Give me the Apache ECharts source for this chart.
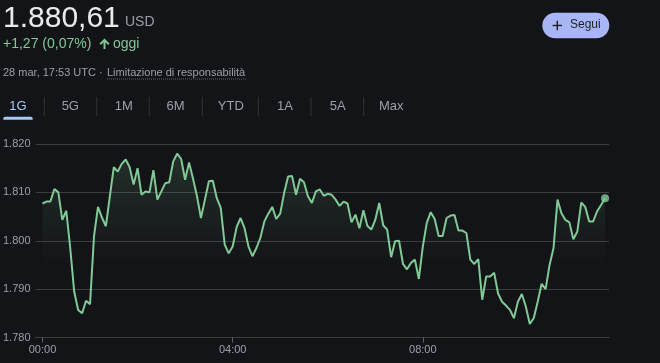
<!DOCTYPE html>
<html>
<head>
<meta charset="utf-8">
<script src="https://cdn.jsdelivr.net/npm/echarts@6/dist/echarts.min.js"></script>
<style>
  html, body { margin: 0; padding: 0; background: #131418; }
  #chart { width: 660px; height: 363px; }
</style>
</head>
<body>
<div id="chart"></div>
<script>
// ---- data ----
const stepMinutes = 5;
const values = [
  1.8077, 1.8081, 1.8081, 1.8107, 1.8100, 1.8043, 1.8062, 1.7985, 1.7895, 1.7857,
  1.7850, 1.7876, 1.7869, 1.8009, 1.8070, 1.8048, 1.8030, 1.8092, 1.8152, 1.8143,
  1.8159, 1.8168, 1.8152, 1.8116, 1.8150, 1.8095, 1.8102, 1.8100, 1.8146, 1.8085,
  1.8102, 1.8119, 1.8121, 1.8164, 1.8180, 1.8169, 1.8126, 1.8162, 1.8128, 1.8092,
  1.8047, 1.8085, 1.8123, 1.8124, 1.8088, 1.8068, 1.7992, 1.7974, 1.7988, 1.8028,
  1.8047, 1.8026, 1.7988, 1.7968, 1.7985, 1.8006, 1.8040, 1.8056, 1.8070, 1.8045,
  1.8056, 1.8099, 1.8133, 1.8134, 1.8095, 1.8128, 1.8121, 1.8092, 1.8078, 1.8102,
  1.8106, 1.8093, 1.8097, 1.8095, 1.8085, 1.8072, 1.8081, 1.8077, 1.8038, 1.8054,
  1.8026, 1.8063, 1.8031, 1.8023, 1.8043, 1.8078, 1.8032, 1.8023, 1.7966, 1.7999,
  1.8000, 1.7952, 1.7941, 1.7954, 1.7961, 1.7921, 1.7988, 1.8037, 1.8059, 1.8045,
  1.8010, 1.8010, 1.8047, 1.8052, 1.8053, 1.8021, 1.8021, 1.8016, 1.7961, 1.7952,
  1.7962, 1.7878, 1.7926, 1.7926, 1.7934, 1.7891, 1.7874, 1.7866, 1.7857, 1.7840,
  1.7874, 1.7890, 1.7864, 1.7828, 1.7840, 1.7874, 1.7911, 1.7900, 1.7950, 1.7985,
  1.8085, 1.8057, 1.8043, 1.8038, 1.8003, 1.8019, 1.8079, 1.8070, 1.8040, 1.8040,
  1.8061, 1.8074, 1.8088
];
const times = values.map((_, i) => i * stepMinutes); // minutes since 00:00
const xTickMinutes = [0, 240, 480];
const xTickLabels = ['00:00', '04:00', '08:00'];
const yTicks = [1.78, 1.79, 1.80, 1.81, 1.82];
const tabs = ['1G', '5G', '1M', '6M', 'YTD', '1A', '5A', 'Max'];
const tabCenters = [18, 70.3, 123.7, 175.5, 230.8, 285, 337.8, 391.2];
const tabSeparators = [44.3, 96.7, 149.3, 202.3, 258.3, 311, 363.7];

const GREEN = '#81c995';
const GREY = '#9aa0a6';
const FONT = '"Liberation Sans", Arial, sans-serif';

const lineData = times.map((t, i) => [t, values[i]]);
const lastPoint = [times[times.length - 1], values[values.length - 1]];

const graphics = [
  { type: 'text', left: 3, top: 4, style: { text: '1.880,61', font: '30px ' + FONT, fill: '#e8eaed' } },
  { type: 'text', left: 125, top: 15, style: { text: 'USD', font: '14px ' + FONT, fill: GREY } },
  { type: 'text', left: 3, top: 37, style: { text: '+1,27 (0,07%)', font: '14px ' + FONT, fill: GREEN } },
  { type: 'polygon', shape: { points: [[104.5,38.5],[109.5,43.5],[108.1,44.9],[105.5,42.3],[105.5,49],[103.5,49],[103.5,42.3],[100.9,44.9],[99.5,43.5]] }, style: { fill: GREEN } },
  { type: 'text', left: 113, top: 37, style: { text: 'oggi', font: '14px ' + FONT, fill: GREEN } },
  { type: 'text', left: 3, top: 67, style: { text: '28 mar, 17:53 UTC · ', font: '11px ' + FONT, fill: GREY } },
  { type: 'text', left: 107, top: 67, style: { text: 'Limitazione di responsabilità', font: '11px ' + FONT, fill: GREY } },
  { type: 'line', shape: { x1: 107, y1: 79, x2: 247, y2: 79 }, style: { stroke: '#5f6368', lineWidth: 1, lineDash: [1, 1] } },
  { type: 'rect', shape: { x: 542.3, y: 12.7, width: 67, height: 25.6, r: 12.8 }, style: { fill: '#a8b6f7' } },
  { type: 'line', shape: { x1: 552.6, y1: 25.5, x2: 562, y2: 25.5 }, style: { stroke: '#1f1f1f', lineWidth: 1.4 } },
  { type: 'line', shape: { x1: 557.3, y1: 20.8, x2: 557.3, y2: 30.2 }, style: { stroke: '#1f1f1f', lineWidth: 1.4 } },
  { type: 'text', left: 570, top: 19, style: { text: 'Segui', font: '12px ' + FONT, fill: '#1f1f1f' } },
  { type: 'rect', shape: { x: 3.3, y: 116.7, width: 29.4, height: 3, r: [2, 2, 0, 0] }, style: { fill: '#a8c7fa' } }
];
tabs.forEach((t, i) => {
  graphics.push({
    type: 'text', x: tabCenters[i], y: 106,
    style: { text: t, font: '13px ' + FONT, fill: i === 0 ? '#a8c7fa' : GREY, align: 'center', verticalAlign: 'middle' }
  });
});
tabSeparators.forEach(x => {
  graphics.push({ type: 'line', shape: { x1: x, y1: 97, x2: x, y2: 116 }, style: { stroke: '#303236', lineWidth: 1 } });
});

const chart = echarts.init(document.getElementById('chart'), null, { renderer: 'canvas' });
chart.setOption({
  backgroundColor: '#131418',
  animation: false,
  grid: { left: 33, right: 51, top: 144, bottom: 25.5, containLabel: false },
  xAxis: {
    type: 'value',
    min: -8.8,
    max: 715,
    splitLine: { show: false },
    axisLine: { show: true, lineStyle: { color: '#3c3d41', width: 1 } },
    axisTick: { show: true, customValues: xTickMinutes, length: 5, lineStyle: { color: '#5f6368' } },
    axisLabel: {
      customValues: xTickMinutes,
      formatter: v => xTickLabels[xTickMinutes.indexOf(v)] || '',
      color: GREY, fontSize: 11, fontFamily: FONT, margin: 7
    }
  },
  yAxis: {
    type: 'value',
    min: yTicks[0],
    max: yTicks[yTicks.length - 1],
    interval: 0.01,
    axisLine: { show: false },
    axisTick: { show: false },
    axisLabel: { formatter: v => v.toFixed(3), color: GREY, fontSize: 11, fontFamily: FONT, margin: 5 },
    splitLine: { lineStyle: { color: '#3c3d41', width: 1 } }
  },
  series: [
    {
      type: 'line',
      data: lineData,
      showSymbol: false,
      lineStyle: { color: GREEN, width: 2 },
      itemStyle: { color: GREEN },
      areaStyle: {
        color: {
          type: 'linear', x: 0, y: 150, x2: 0, y2: 265, global: true,
          colorStops: [
            { offset: 0, color: 'rgba(129,201,149,0.22)' },
            { offset: 1, color: 'rgba(129,201,149,0)' }
          ]
        }
      },
      silent: true
    },
    {
      type: 'scatter',
      data: [lastPoint],
      symbol: 'circle',
      symbolSize: 8,
      itemStyle: { color: GREEN },
      silent: true
    }
  ],
  graphic: graphics
});
</script>
</body>
</html>
